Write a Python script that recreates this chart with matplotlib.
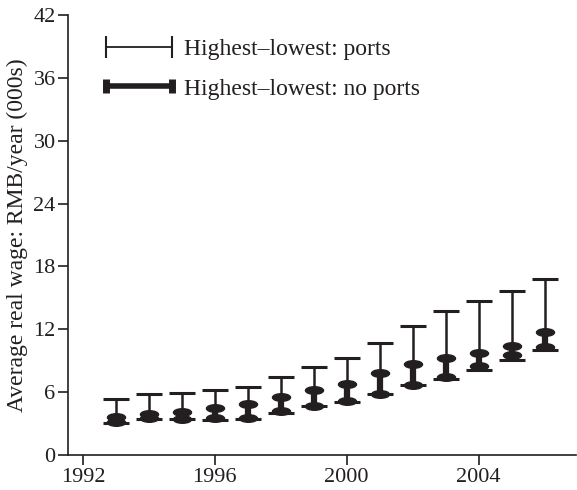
import matplotlib.pyplot as plt
import numpy as np
from matplotlib.path import Path
from matplotlib.transforms import Affine2D
from matplotlib.lines import Line2D

years = np.arange(1993, 2007)
# highest-lowest range across provinces with ports
ports_high = [5.35, 5.85, 5.95, 6.2, 6.45, 7.4, 8.4, 9.3, 10.7, 12.3, 13.7, 14.7, 15.65, 16.8]
ports_low = [3.05, 3.4, 3.4, 3.35, 3.4, 4.05, 4.65, 5.1, 5.8, 6.65, 7.3, 8.15, 9.05, 10.0]
# highest-lowest range across provinces without ports
noports_high = [3.6, 3.9, 4.1, 4.5, 4.9, 5.55, 6.2, 6.75, 7.8, 8.65, 9.25, 9.7, 10.4, 11.7]
noports_low = [3.15, 3.5, 3.45, 3.5, 3.55, 4.2, 4.7, 5.15, 5.85, 6.7, 7.4, 8.45, 9.55, 10.3]

ink = '#231f20'
plt.rcParams['font.family'] = ['Liberation Serif', 'DejaVu Serif']
plt.rcParams['font.size'] = 17

fig = plt.figure(figsize=(5.77, 4.9), dpi=100)
ax = fig.add_axes([0.118, 0.0714, 0.88, 0.898])

ph = np.array(ports_high)
pl = np.array(ports_low)
ax.errorbar(years, (ph + pl) / 2, yerr=(ph - pl) / 2, fmt='none', ecolor=ink,
            elinewidth=1.8, capsize=9.5, capthick=2.2, zorder=2)

# thick bars with oval ends
oval = Path.unit_circle().transformed(Affine2D().scale(1, 0.42))
ax.vlines(years, noports_low, noports_high, color=ink, lw=4.5, zorder=3)
ax.plot(years, noports_high, ls='none', marker=oval, ms=13, color=ink, zorder=3)
ax.plot(years, noports_low, ls='none', marker=oval, ms=13, color=ink, zorder=3)

ax.set_xlim(1991.55, 2006.95)
ax.set_ylim(0, 42)
ax.set_xticks([1992, 1996, 2000, 2004])
ax.set_yticks(np.arange(0, 43, 6))
ax.set_ylabel('Average real wage: RMB/year (000s)', color=ink, labelpad=4)
ax.spines['top'].set_visible(False)
ax.spines['right'].set_visible(False)
for s in ['left', 'bottom']:
    ax.spines[s].set_color(ink)
    ax.spines[s].set_linewidth(1.2)
ax.tick_params(colors=ink, length=7, width=1.2, labelsize=16, pad=2)

handles = [
    Line2D([], [], color=ink, lw=1.3, marker='|', ms=16, mew=1.5),
    Line2D([], [], color=ink, lw=4, marker='|', ms=10, mew=5),
]
ax.legend(handles, ['Highest\u2013lowest: ports', 'Highest\u2013lowest: no ports'],
          loc='upper left', bbox_to_anchor=(0.06, 0.946), frameon=False,
          numpoints=2, handlelength=3.4, handletextpad=0.2, labelspacing=0.75,
          borderpad=0, borderaxespad=0, fontsize=17, labelcolor=ink)

fig.savefig('out.png', dpi=100)
